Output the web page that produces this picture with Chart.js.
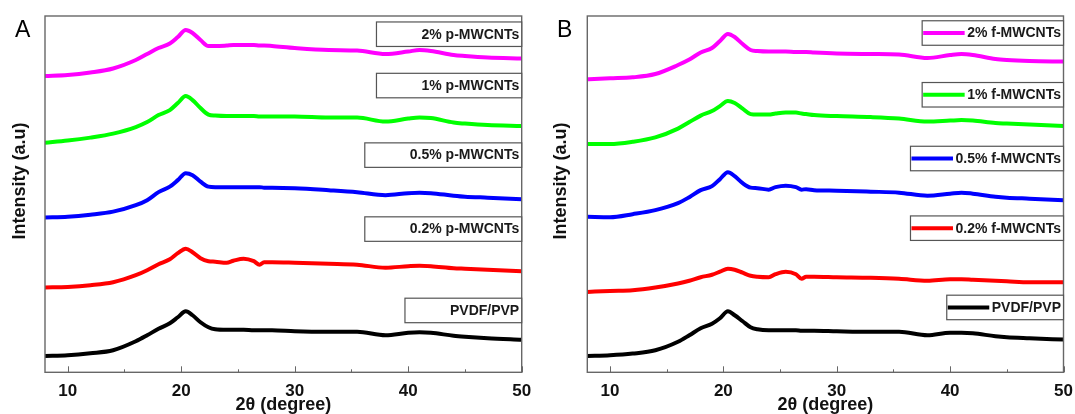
<!DOCTYPE html>
<html lang="en">
  <head>
    <meta charset="UTF-8">
    <title>XRD patterns</title>
    <script src="https://cdn.jsdelivr.net/npm/chart.js@4.4.1/dist/chart.umd.min.js"></script>
    <style>
      body { margin: 0; background: #fff; }
      #wrap { position: relative; width: 1075px; height: 414px; overflow: hidden; }
      #panelA { position: absolute; left: 0; top: 0; }
      #panelB { position: absolute; left: 540px; top: 0; }
    </style>
  </head>
  <body>
    <div id="wrap">
      <canvas id="panelA" width="540" height="414"></canvas>
      <canvas id="panelB" width="535" height="414"></canvas>
    </div>
    <script>
      // 2theta positions (degree), shared by all curves
      const angles = [8, 10, 12, 14, 16, 17, 18, 19, 19.7, 20.4, 21, 21.7, 22.4, 23, 24, 24.6, 25.5,
        26.4, 26.9, 27.3, 28, 30, 33, 35.5, 38, 40, 41, 42, 44, 45, 47, 50]
      const xTicks = [10, 20, 30, 40, 50]
      const xMinor = [15, 25, 35, 45]

      // panel A, pristine MWCNTs (stacked intensity, a.u.)
      const pvdfA = [16.3, 17, 19, 22, 31, 37, 43.5, 49, 55, 61, 57, 50, 45, 43, 42.5, 42.5, 42.5, 42, 42, 42, 42, 41, 40.5, 40.5, 37, 39.5, 40, 39.5, 36.5, 35.5, 34, 32.5]
      const p02A = [84.7, 85.3, 87, 90, 97, 102, 108, 113, 119, 123.5, 120, 114, 111, 110.5, 109.5, 111.5, 113.5, 111, 107.5, 110, 110, 109.5, 108.5, 107.5, 104.5, 106, 106.5, 106, 104, 103.5, 102.5, 101]
      const p05A = [154.7, 155.5, 157.5, 160.5, 167, 172, 180, 185.5, 192, 199, 197, 190.5, 185.5, 185, 185, 185, 185, 185, 185, 184.5, 184.5, 184, 182, 180, 177, 179, 179.5, 179, 176.5, 175.5, 174.5, 173]
      const p1A = [229.3, 231.5, 234.5, 238.5, 245, 250, 257, 262, 269, 276, 272, 264, 257.5, 256.5, 256, 256, 256, 256, 255.5, 255.5, 255.5, 255.5, 254.5, 254.5, 250.5, 253.5, 254.5, 254, 249.5, 248.5, 247, 246]
      const p2A = [296, 297, 299.5, 303.5, 312, 318, 324, 328.5, 335, 342, 339, 332, 326, 326, 326.5, 327, 327, 327, 326.5, 326.5, 326, 324, 322, 321.5, 318, 320.5, 322, 321, 317, 316, 314.5, 313.5]

      // panel B, functionalised MWCNTs
      const pvdfB = [16.3, 17, 18.7, 22, 30.5, 37, 44, 48.5, 54, 61, 57, 51, 45, 43, 42, 42, 42, 42, 41.5, 41.5, 41.5, 41, 40.5, 40.5, 37, 39.5, 39.5, 39, 36, 35, 34, 32.7]
      const f02B = [80.3, 81.3, 82, 84.7, 88.7, 91.5, 95, 97.5, 100.5, 103.5, 102.5, 99.5, 96.5, 95.5, 95, 98, 100.5, 98, 93.5, 95.5, 95.5, 95, 94.5, 93.5, 91.5, 93, 93, 92.5, 91.5, 91, 90, 90]
      const f05B = [155.3, 155, 158, 162, 169, 175, 182, 186, 193, 200, 196, 189, 184.5, 184, 182.5, 185, 186.5, 185, 182.5, 183, 182, 181.5, 180.5, 179.5, 176.5, 178.5, 179.5, 178.5, 175.5, 174.5, 173.5, 172]
      const f1B = [228, 228, 230.3, 234.7, 243.5, 250, 256.5, 261, 266, 271, 269, 263.5, 258, 257.5, 257.5, 258.5, 259.5, 259.5, 258.5, 258, 257, 256, 255, 253.5, 250.5, 251.5, 252, 251.5, 249, 248.5, 247.5, 246]
      const f2B = [292.7, 293.7, 294.7, 298, 307, 312.5, 319.5, 324, 331, 338, 335, 328, 322, 321, 320.5, 320.5, 320.5, 320, 320, 320, 319.5, 318.5, 318, 317.5, 314, 317, 318, 317, 313, 312, 311, 310.5]

      const labelsA = ['PVDF/PVP', '0.2% p-MWCNTs', '0.5% p-MWCNTs', '1% p-MWCNTs', '2% p-MWCNTs']
      const labelsB = ['PVDF/PVP', '0.2% f-MWCNTs', '0.5% f-MWCNTs', '1% f-MWCNTs', '2% f-MWCNTs']
      // where each label box sits (a.u. on the intensity axis)
      const labelYA = [61.8, 143.1, 217, 286.5, 337.8]
      const labelYB = [64.8, 144, 213.6, 277.3, 339]
      const colors = ['#000000', '#ff0000', '#0000ff', '#00ff00', '#ff00ff']

      const FONT = "'Liberation Sans', Arial, sans-serif"

      const panelDecor = {
        id: 'panelDecor',
        afterDatasetsDraw(chart, args, opts) {
          const { ctx, chartArea: a, scales } = chart
          const x = scales.x
          const y = scales.y
          ctx.save()
          // frame
          ctx.strokeStyle = '#676767'
          ctx.lineWidth = 1.4
          ctx.strokeRect(a.left, a.top, a.right - a.left, a.bottom - a.top)
          // inward ticks
          ctx.beginPath()
          for (const v of xTicks) {
            const px = Math.round(x.getPixelForValue(v)) + 0.5
            ctx.moveTo(px, a.bottom); ctx.lineTo(px, a.bottom - 6)
          }
          for (const v of xMinor) {
            const px = Math.round(x.getPixelForValue(v)) + 0.5
            ctx.moveTo(px, a.bottom); ctx.lineTo(px, a.bottom - 3)
          }
          ctx.lineWidth = 1
          ctx.stroke()

          // label boxes
          ctx.font = `bold 14px ${FONT}`
          ctx.textBaseline = 'middle'
          ctx.textAlign = 'right'
          opts.labels.forEach((txt, i) => {
            const cy = y.getPixelForValue(opts.labelY[i])
            const tw = ctx.measureText(txt).width
            const right = a.right
            const left = right - tw - 48
            const h = 24.5
            ctx.fillStyle = '#fff'
            ctx.fillRect(left, cy - h / 2, right - left, h)
            ctx.strokeStyle = '#555'
            ctx.lineWidth = 1.2
            ctx.strokeRect(left + 0.5, cy - h / 2, right - left - 0.5, h)
            if (opts.swatch) {
              ctx.strokeStyle = colors[i]
              ctx.lineWidth = 4
              ctx.beginPath()
              ctx.moveTo(left + 1.5, cy)
              ctx.lineTo(right - 3 - tw - 2, cy)
              ctx.stroke()
            }
            ctx.fillStyle = '#1a1a1a'
            ctx.fillText(txt, right - 2.5, cy + 0.5)
          })

          // y title
          ctx.save()
          ctx.translate(opts.yTitleX, 181)
          ctx.rotate(-Math.PI / 2)
          ctx.textAlign = 'center'
          ctx.textBaseline = 'middle'
          ctx.font = `bold 18px ${FONT}`
          ctx.fillStyle = '#111'
          ctx.fillText('Intensity (a.u)', 0, 0)
          ctx.restore()

          // panel letter
          ctx.font = `23px ${FONT}`
          ctx.textAlign = 'left'
          ctx.textBaseline = 'alphabetic'
          ctx.fillStyle = '#000'
          ctx.fillText(opts.letter, opts.letterX, 37.3)
          ctx.restore()
        }
      }

      function makePanel(canvas, series, labels, labelY, opts) {
        const datasets = series.map((vals, i) => ({
          label: labels[i],
          data: angles.map((a, k) => ({ x: a, y: vals[k] })),
          borderColor: colors[i],
          borderWidth: 4,
          pointRadius: 0,
          fill: false,
          cubicInterpolationMode: 'monotone',
        }))
        return new Chart(canvas, {
          type: 'line',
          data: { datasets },
          options: {
            responsive: false,
            animation: false,
            devicePixelRatio: 1,
            layout: { autoPadding: false, padding: { left: opts.padLeft, right: opts.padRight, top: 16, bottom: 0 } },
            plugins: {
              legend: { display: false },
              tooltip: { enabled: false },
              panelDecor: { labels, labelY, swatch: opts.swatch, letter: opts.letter, letterX: opts.letterX, yTitleX: opts.yTitleX },
            },
            scales: {
              x: {
                type: 'linear', min: 8, max: 50,
                grid: { display: false, drawTicks: false },
                border: { display: false },
                afterBuildTicks: s => { s.ticks = xTicks.map(v => ({ value: v })) },
                afterFit: s => { s.height = 41.7; s.paddingLeft = 0; s.paddingRight = 0 },
                ticks: { font: { family: FONT, size: 17, weight: 'bold' }, color: '#111', padding: 9, maxRotation: 0 },
                title: { display: true, text: '2θ (degree)', font: { family: FONT, size: 18, weight: 'bold' }, color: '#111', padding: { top: 0, bottom: -2 } },
              },
              y: { min: 0, max: 356, display: false },
            },
          },
          plugins: [panelDecor],
        })
      }

      makePanel(document.getElementById('panelA'), [pvdfA, p02A, p05A, p1A, p2A], labelsA, labelYA,
        { padLeft: 45, padRight: 18.3, swatch: false, letter: 'A', letterX: 15, yTitleX: 20 })
      makePanel(document.getElementById('panelB'), [pvdfB, f02B, f05B, f1B, f2B], labelsB, labelYB,
        { padLeft: 47.3, padRight: 11.5, swatch: true, letter: 'B', letterX: 17, yTitleX: 21 })
    </script>
  </body>
</html>
